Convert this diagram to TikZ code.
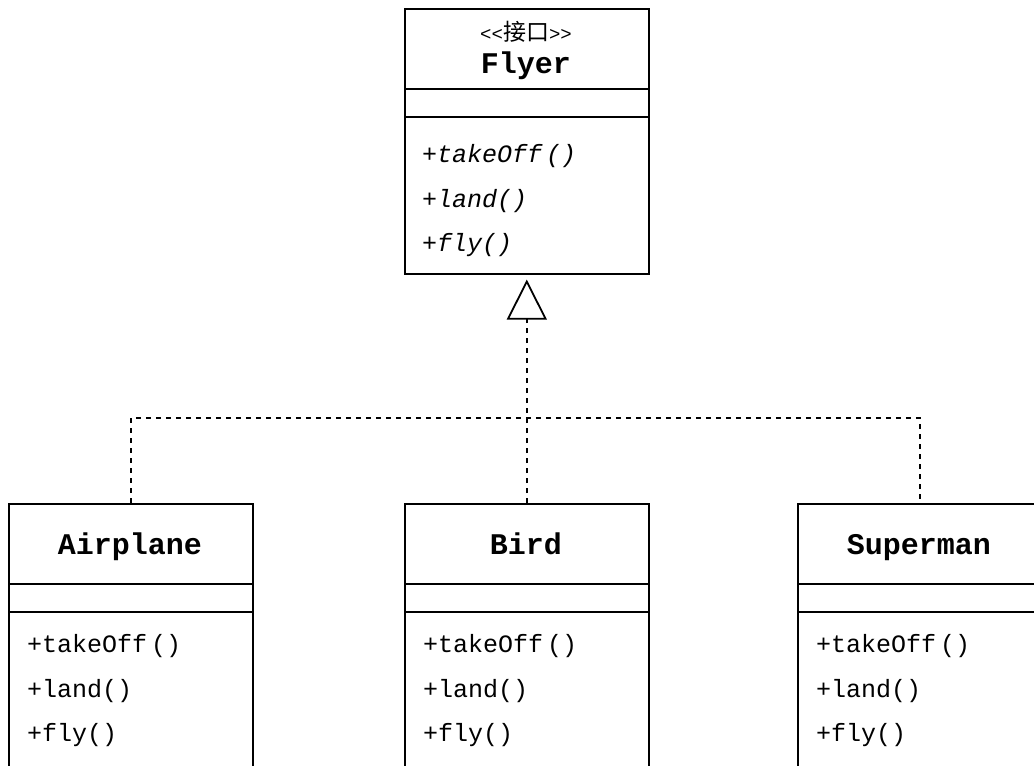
\documentclass[tikz,border=0pt]{standalone}
\usepackage{fontspec}
\setmonofont{Liberation Mono}
\newfontfamily\cjk{Noto Sans CJK SC}
\usetikzlibrary{arrows.meta}
\begin{document}
\begin{tikzpicture}[x=1pt,y=-1pt,
  box/.style={draw, line width=1.6pt, minimum width=244pt, inner sep=0pt, anchor=north west},
  meth/.style={font=\ttfamily\fontsize{25}{25}\selectfont, anchor=base west, inner sep=0pt},
  imeth/.style={meth, font=\ttfamily\itshape\fontsize{25}{25}\selectfont},
  ttl/.style={font=\ttfamily\bfseries\fontsize{30}{30}\selectfont, inner sep=0pt, anchor=base},
  conn/.style={line width=1.7pt, dash pattern=on 5pt off 5pt}]
\fill[white] (0,0) rectangle (1034,766);
\clip (0,0) rectangle (1034,766);
% Flyer
\node[box, minimum height=80pt] (fT) at (404,8) {};
\node[box, minimum height=28pt] (fA) at (404,88) {};
\node[box, minimum height=157pt] (fM) at (404,116) {};
\node[inner sep=0pt] (fS) at (526,32) {{\ttfamily\fontsize{19}{19}\selectfont<<}{\cjk\fontsize{23}{23}\selectfont 接口}{\ttfamily\fontsize{19}{19}\selectfont>>}};
\node[ttl] (fN) at (526,73) {Flyer};
\node[imeth] (f1) at (422,162) {+takeOff\kern4pt()};
\node[imeth] (f2) at (422,207) {+land()};
\node[imeth] (f3) at (422,251) {+fly()};
% Airplane
\node[box, minimum height=80pt] (aT) at (8,503) {};
\node[box, minimum height=28pt] (aA) at (8,583) {};
\node[box, minimum height=200pt] (aM) at (8,611) {};
\node[ttl] (aN) at (130,554) {Airplane};
\node[meth] (a1) at (27,652) {+takeOff\kern4pt()};
\node[meth] (a2) at (27,697) {+land()};
\node[meth] (a3) at (27,741) {+fly()};
% Bird
\node[box, minimum height=80pt] (bT) at (404,503) {};
\node[box, minimum height=28pt] (bA) at (404,583) {};
\node[box, minimum height=200pt] (bM) at (404,611) {};
\node[ttl] (bN) at (526,554) {Bird};
\node[meth] (b1) at (423,652) {+takeOff\kern4pt()};
\node[meth] (b2) at (423,697) {+land()};
\node[meth] (b3) at (423,741) {+fly()};
% Superman
\node[box, minimum height=80pt] (sT) at (797,503) {};
\node[box, minimum height=28pt] (sA) at (797,583) {};
\node[box, minimum height=200pt] (sM) at (797,611) {};
\node[ttl] (sN) at (919,554) {Superman};
\node[meth] (s1) at (816,652) {+takeOff\kern4pt()};
\node[meth] (s2) at (816,697) {+land()};
\node[meth] (s3) at (816,741) {+fly()};
% connectors
\coordinate (hub) at (526,418);
\draw[conn] (aT.north) |- (hub) -| (sT.north);
\draw[conn, -{Triangle[open,length=40pt,width=40pt,line width=1.8pt]}, shorten >=5pt] (bT.north) -- (fM.south);
\end{tikzpicture}
\end{document}
